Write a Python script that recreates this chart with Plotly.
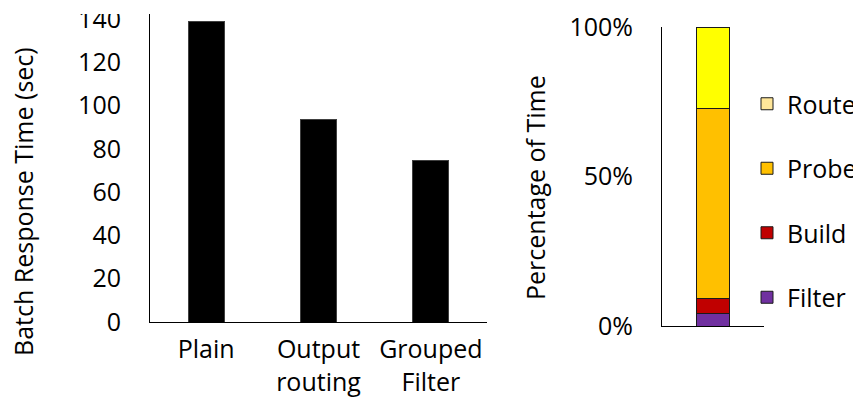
import plotly.graph_objects as go

# ---- data ----
categories = ["Plain", "Output<br>routing", "Grouped<br>Filter"]
response_time = [138.8, 93.6, 74.6]
left_ticks = [0, 20, 40, 60, 80, 100, 120, 140]

breakdown_x = ["All"]
phases = ["Filter", "Build", "Probe", "Route"]
phase_pct = [4.2, 5.0, 63.6, 27.2]
bar_colors = ["#7030A0", "#C00000", "#FFC000", "#FFFF00"]
legend_colors = ["#7030A0", "#C00000", "#FFC000", "#FFE699"]
right_tickvals = [0, 50, 100]
right_ticktext = ["0%", "50%", "100%"]

FONT = "Open Sans"
FS = 25
W, H = 861, 403
OFF = 8  # page body margin offset

fig = go.Figure()

fig.add_trace(go.Bar(
    x=categories, y=response_time, width=0.32,
    marker=dict(color="black", line=dict(color="#404040", width=1)),
    xaxis="x", yaxis="y", showlegend=False,
))

for name, val, col in zip(phases, phase_pct, bar_colors):
    fig.add_trace(go.Bar(
        x=breakdown_x, y=[val], width=0.333, name=name,
        marker=dict(color=col, line=dict(color="#1a1a1a", width=1)),
        xaxis="x2", yaxis="y2", showlegend=False,
    ))

# legend entries (legend swatch colours as in the source figure), top to bottom
for name, col in reversed(list(zip(phases, legend_colors))):
    fig.add_trace(go.Bar(
        x=[None], y=[None], name=name, legendgroup=name,
        marker=dict(color=col, line=dict(color="#1a1a1a", width=1)),
        xaxis="x2", yaxis="y2", showlegend=True,
    ))

def px_x(p):
    return (p - OFF) / W

def px_y(p):
    return (H - (p - OFF)) / H

fig.update_layout(
    width=W, height=H,
    margin=dict(l=0, r=0, t=0, b=0, autoexpand=False),
    paper_bgcolor="white", plot_bgcolor="white",
    font=dict(family=FONT, size=FS, color="black"),
    barmode="stack",
    xaxis=dict(domain=[px_x(150), px_x(487)], anchor="y", automargin=False,
               showline=True, linecolor="black", linewidth=1,
               showgrid=False, ticks="", tickfont=dict(size=FS),
               ticklabelstandoff=5, fixedrange=True),
    yaxis=dict(domain=[px_y(322), px_y(14)], anchor="x", automargin=False,
               range=[0, 142.3], tickvals=left_ticks,
               showline=True, linecolor="black", linewidth=1,
               showgrid=False, zeroline=False, ticks="",
               ticklabeloverflow="allow",
               ticklabelstandoff=23, tickfont=dict(size=FS)),
    xaxis2=dict(domain=[px_x(662), px_x(764)], anchor="y2", automargin=False,
                showline=True, linecolor="black", linewidth=1,
                showgrid=False, ticks="", showticklabels=False),
    yaxis2=dict(domain=[px_y(326), px_y(27)], anchor="x2", automargin=False,
                range=[0, 100], tickvals=right_tickvals, ticktext=right_ticktext,
                showline=True, linecolor="black", linewidth=1,
                showgrid=False, zeroline=False, ticks="",
                ticklabeloverflow="allow",
                ticklabelstandoff=23, tickfont=dict(size=FS)),
    legend=dict(x=px_x(747), y=px_y(81), xanchor="left", yanchor="top",
                traceorder="grouped", tracegroupgap=29,
                font=dict(size=FS), bgcolor="rgba(0,0,0,0)"),
    annotations=[
        dict(text="Batch Response Time (sec)", textangle=-90,
             x=px_x(23), y=px_y(202), xref="paper", yref="paper",
             xanchor="center", yanchor="middle", showarrow=False,
             font=dict(size=FS)),
        dict(text="Percentage of Time", textangle=-90,
             x=px_x(535), y=px_y(188), xref="paper", yref="paper",
             xanchor="center", yanchor="middle", showarrow=False,
             font=dict(size=FS)),
    ],
    shapes=[
        dict(type="rect", xref="paper", yref="paper", layer="above",
             x0=px_x(60), x1=px_x(140), y0=px_y(14), y1=1.0,
             fillcolor="white", line=dict(width=0)),
    ],
)

fig.write_html("out.html")
